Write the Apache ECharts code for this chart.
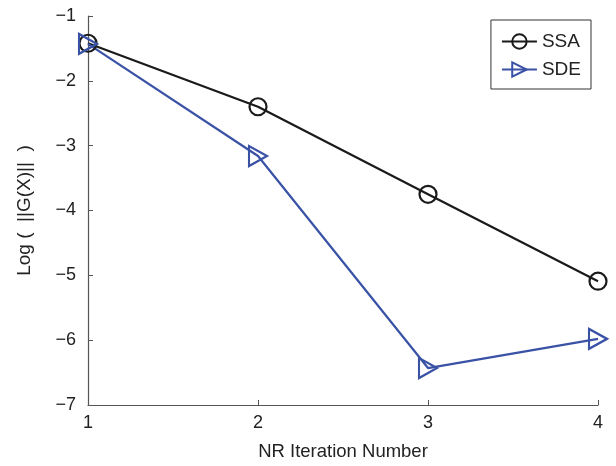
<!DOCTYPE html>
<html><head><meta charset="utf-8">
<script src="https://cdn.jsdelivr.net/npm/echarts@6/dist/echarts.min.js"></script>
<style>html,body{margin:0;padding:0;background:#fff}#c{width:616px;height:466px}</style>
</head><body><div id="c"></div>
<script>
var iterations = [1, 2, 3, 4];
var ssaValues = [-1.42, -2.40, -3.75, -5.09];
var sdeValues = [-1.43, -3.16, -6.43, -5.98];
var yTicks = [-7, -6, -5, -4, -3, -2, -1];

function pairs(xs, ys) { return xs.map(function (x, i) { return [x, ys[i]]; }); }
var font = 'Liberation Sans, Arial, sans-serif';
var chart = echarts.init(document.getElementById('c'));
chart.setOption({
  animation: false,
  backgroundColor: '#fff',
  grid: { left: 88, right: 18, top: 16, bottom: 61, outerBoundsMode: 'none', containLabel: false },
  xAxis: {
    type: 'value', min: 1, max: 4, interval: 1,
    name: 'NR Iteration Number', nameLocation: 'middle', nameGap: 37,
    nameTextStyle: { fontFamily: font, fontSize: 18.5, color: '#222' },
    axisLine: { lineStyle: { color: '#555', width: 1.2 } },
    axisTick: { inside: true, length: 5, lineStyle: { color: '#555' } },
    axisLabel: { fontFamily: font, fontSize: 18, color: '#222', margin: 9 },
    splitLine: { show: false }
  },
  yAxis: {
    type: 'value', min: yTicks[0], max: yTicks[yTicks.length - 1], interval: 1,
    name: 'Log (  ||G(X)||  )', nameLocation: 'middle', nameGap: 54,
    nameTextStyle: { fontFamily: font, fontSize: 19, color: '#222' },
    axisLine: { show: true, lineStyle: { color: '#555', width: 1.2 } },
    axisTick: { show: true, inside: true, length: 5, lineStyle: { color: '#555' } },
    axisLabel: { fontFamily: font, fontSize: 18, color: '#222', margin: 12,
      formatter: function (v) { return String(v).replace('-', '\u2212'); } },
    splitLine: { show: false }
  },
  legend: {
    orient: 'vertical', right: 25, top: 20,
    borderColor: '#333', borderWidth: 1, borderRadius: 0,
    padding: [12, 10, 10, 10], itemWidth: 35, itemHeight: 18, itemGap: 9,
    textStyle: { fontFamily: font, fontSize: 19, color: '#222' },
    data: ['SSA', 'SDE']
  },
  series: [
    {
      name: 'SSA', type: 'line', data: pairs(iterations, ssaValues),
      symbol: 'circle', symbolSize: 17, showAllSymbol: true,
      lineStyle: { color: '#1a1a1a', width: 2.2 },
      itemStyle: { color: 'rgba(255,255,255,0)', borderColor: '#1a1a1a', borderWidth: 2.2 }
    },
    {
      name: 'SDE', type: 'line', data: pairs(iterations, sdeValues),
      symbol: 'triangle', symbolSize: [20, 18], symbolRotate: -90,
      lineStyle: { color: '#3a52a6', width: 2.2 },
      itemStyle: { color: 'rgba(255,255,255,0)', borderColor: '#3a52a6', borderWidth: 2.2 }
    }
  ]
});
</script></body></html>
